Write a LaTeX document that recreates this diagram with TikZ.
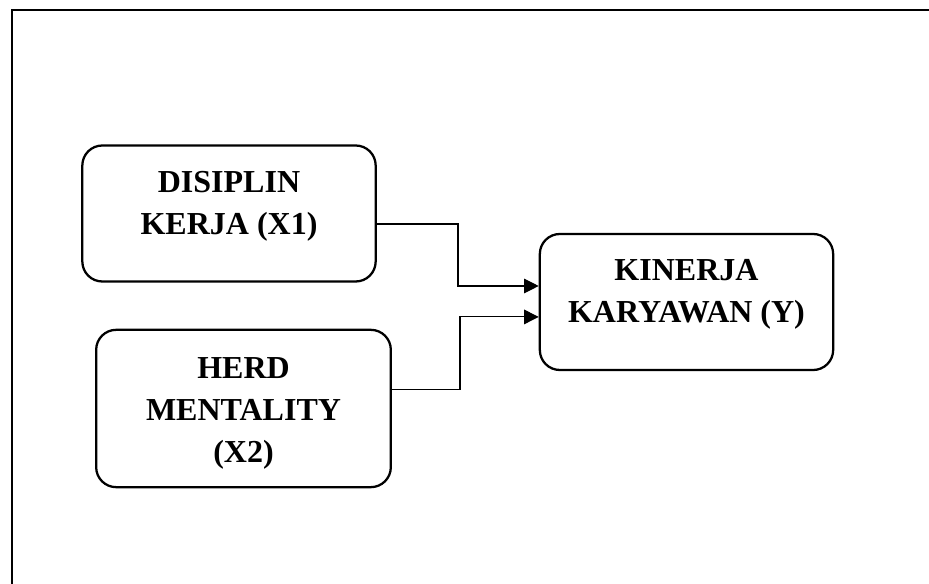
\documentclass[tikz,border=0pt]{standalone}
\usepackage{fontspec}
\setmainfont{Liberation Serif}
\usetikzlibrary{arrows.meta}

\tikzset{
	factor/.style={draw, line width=1.7pt, rounded corners=15pt,
		minimum width=220pt, minimum height=102pt},
	caption/.style={align=center, font=\fontsize{24}{31.5}\selectfont\bfseries},
	link/.style={line width=0.8pt, -{Triangle[length=11pt,width=11pt]}}
}

\begin{document}
\begin{tikzpicture}[x=0.75pt,y=-0.75pt]
\useasboundingbox (0,0) rectangle (929,584);
\clip (0,0) rectangle (929,584);
\draw[line width=1.6pt] (12,10) rectangle (940,600);

% variables
\node[factor] (disiplin) at (229,213.5) {};
\node[factor, minimum width=221pt, minimum height=118pt] (herd) at (243.5,408.5) {};
\node[factor] (kinerja) at (686.5,302) {};

\node[caption] (disiplintext) at ([yshift=5.5pt]disiplin.center) {DISIPLIN\\KERJA (X1)};
\node[caption] (herdtext) at ([yshift=-4pt]herd.center) {HERD\\MENTALITY\\(X2)};
\node[caption] (kinerjatext) at ([yshift=6pt]kinerja.center) {KINERJA\\KARYAWAN (Y)};

% arrows
\coordinate (out1) at ([yshift=-7.9pt]disiplin.east);
\coordinate (out2) at ([yshift=13.9pt]herd.east);
\coordinate (in1) at ([yshift=12pt]kinerja.west);
\coordinate (in2) at ([yshift=-11.2pt]kinerja.west);
\coordinate (bend1) at (458,250);
\coordinate (bend2) at (460,350);

\draw[link] (out1) -| (bend1) |- (in1);
\draw[link] (out2) -| (bend2) |- (in2);
\end{tikzpicture}
\end{document}
